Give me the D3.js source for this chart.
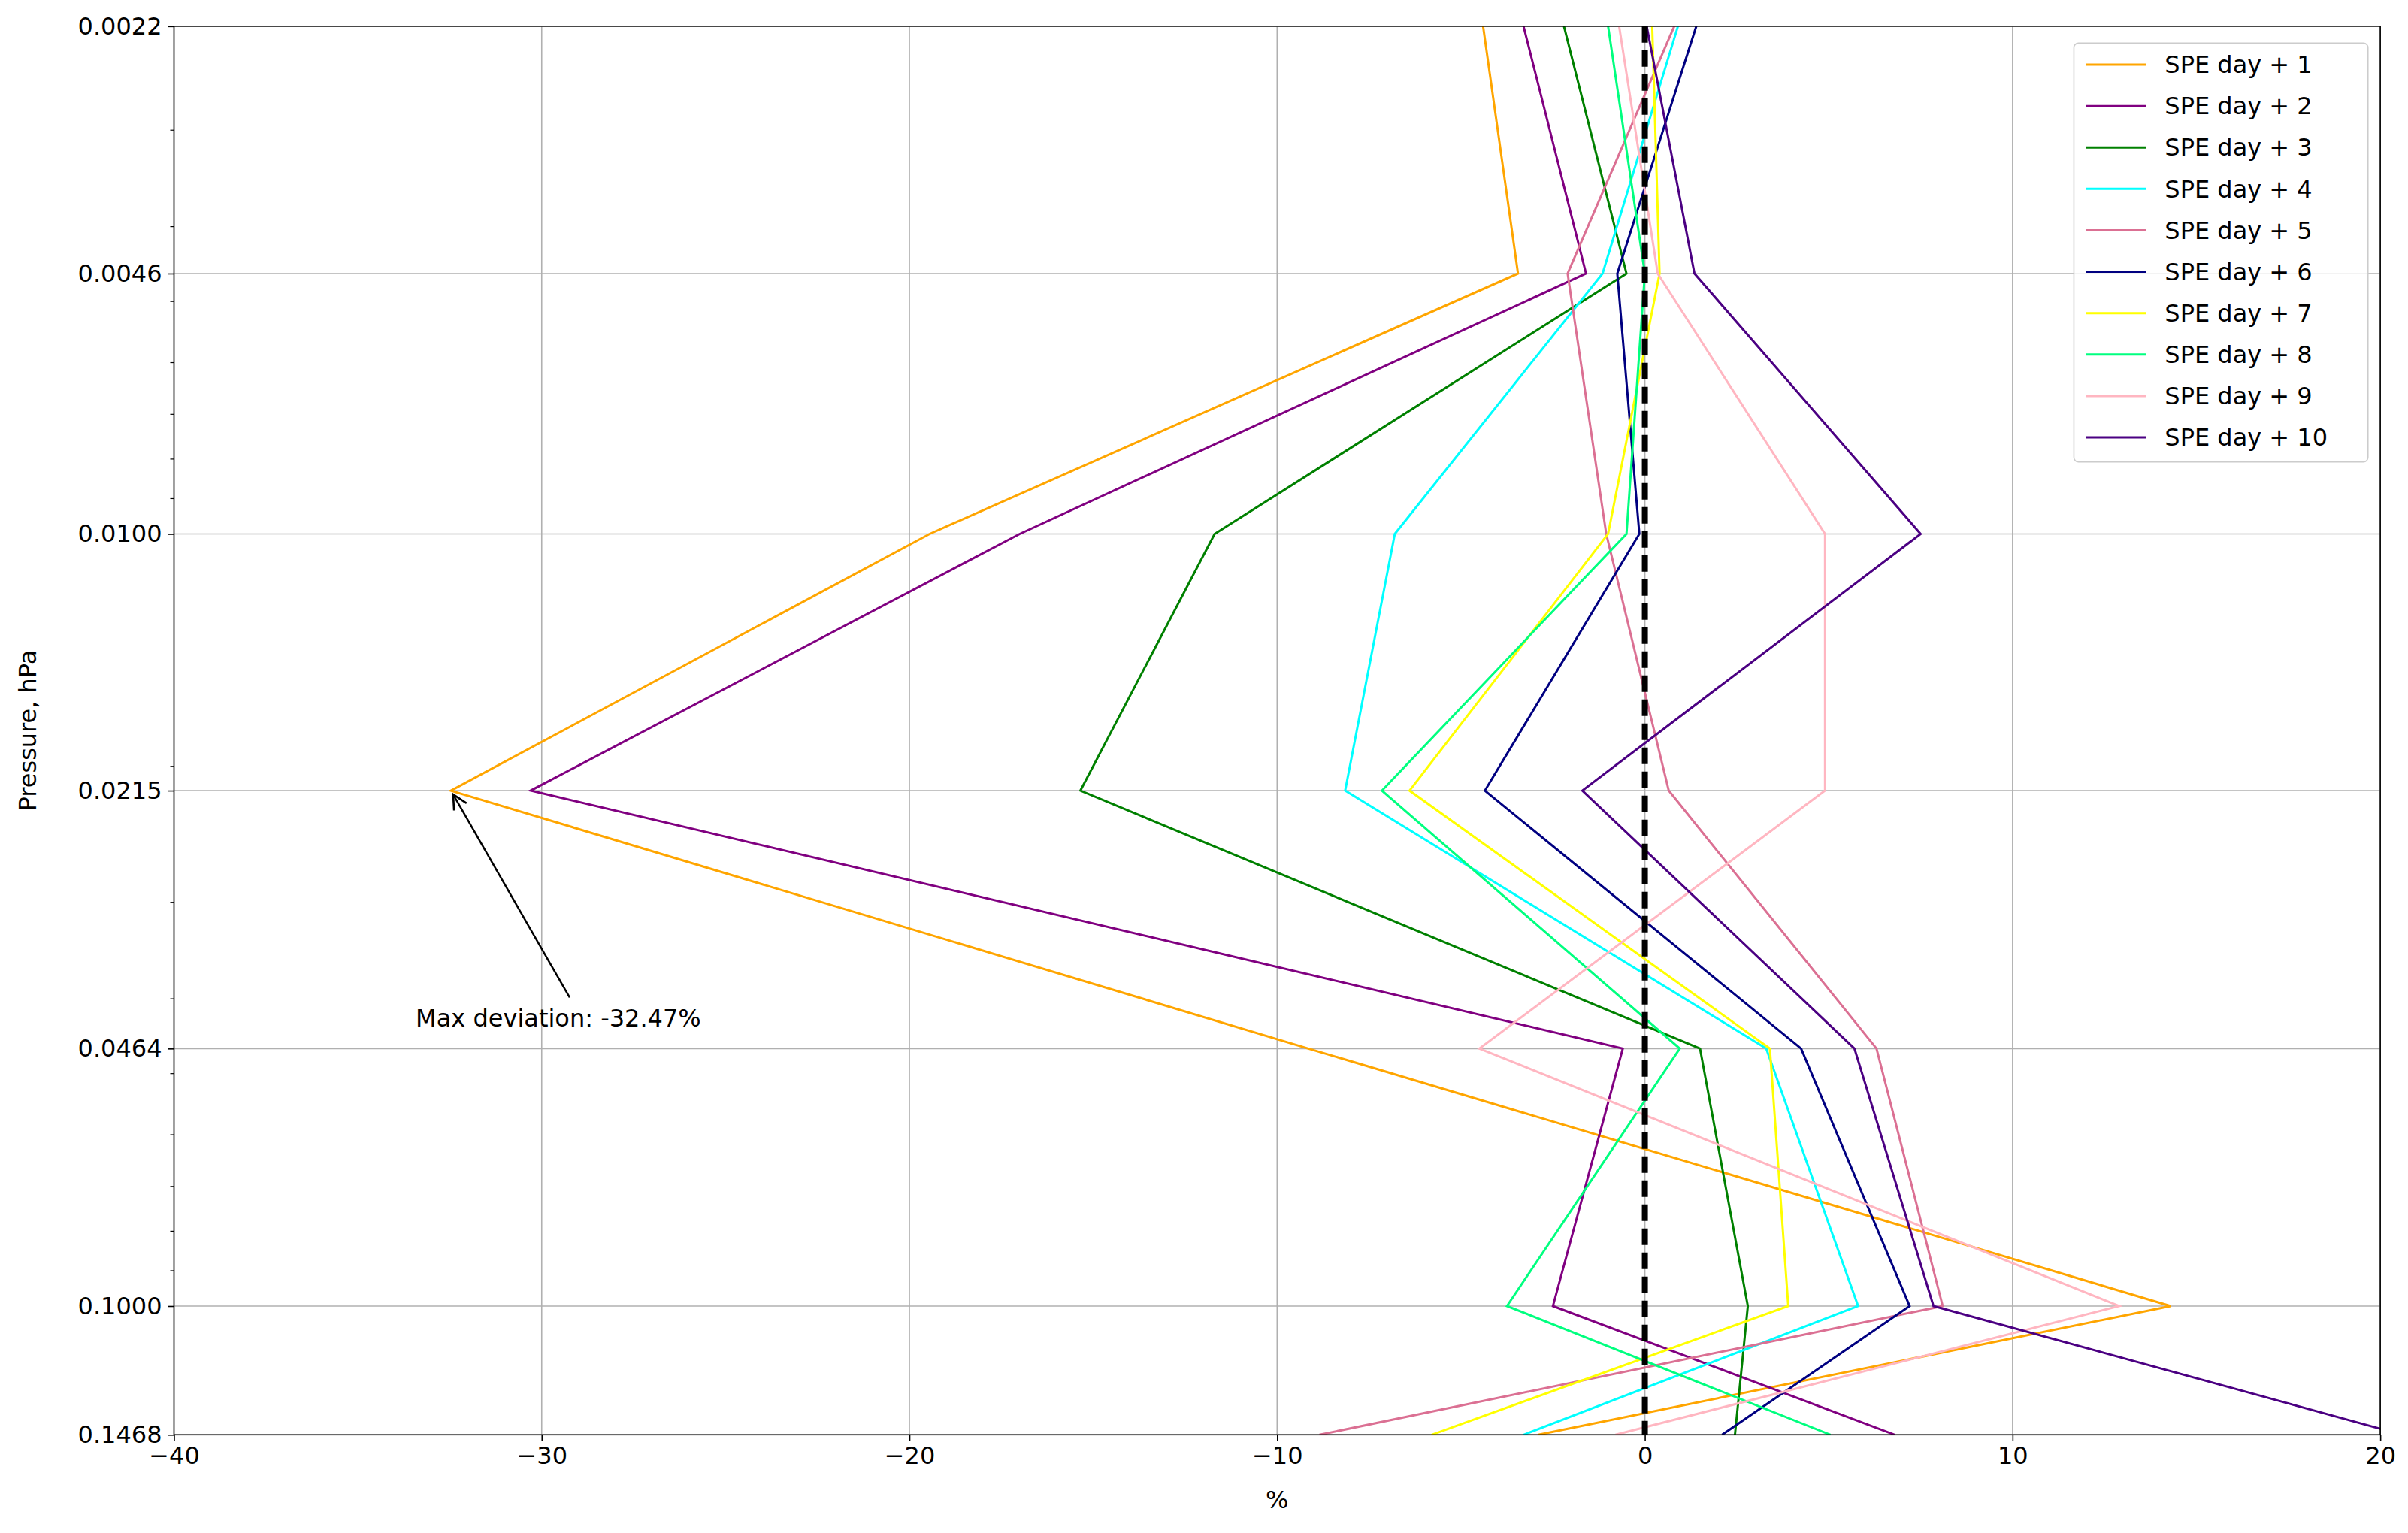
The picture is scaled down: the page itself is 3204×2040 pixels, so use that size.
<!DOCTYPE html>
<html><head><meta charset="utf-8">
<script src="https://cdn.jsdelivr.net/npm/d3@7"></script>
<style>body{margin:0;background:#fff}svg{font-family:"DejaVu Sans",sans-serif}</style>
</head><body>
<svg id="svg1" width="3204" height="2040"></svg>
<script>
"use strict";
// pressure levels (hPa) and tick labels
const levels = [0.0022, 0.0046, 0.0100, 0.0215, 0.0464, 0.1000, 0.1468];
const tickLabels = ["0.0022", "0.0046", "0.0100", "0.0215", "0.0464", "0.1000", "0.1468"];
const seriesNames = ["SPE day + 1","SPE day + 2","SPE day + 3","SPE day + 4","SPE day + 5",
  "SPE day + 6","SPE day + 7","SPE day + 8","SPE day + 9","SPE day + 10"];
const colors = ["orange","purple","green","cyan","palevioletred","navy","yellow","springgreen","lightpink","indigo"];
// deviation (%) at each level
const day1  = [-4.4, -3.45, -19.45, -32.47, -9.15, 14.3, -2.9];
const day2  = [-3.3, -1.6, -17.0, -30.3, -0.6, -2.5, 6.8];
const day3  = [-2.2, -0.5, -11.7, -15.35, 1.5, 2.8, 2.45];
const day4  = [0.9, -1.15, -6.8, -8.15, 3.3, 5.8, -3.3];
const day5  = [0.8, -2.1, -1.05, 0.65, 6.3, 8.1, -8.85];
const day6  = [1.4, -0.75, -0.15, -4.35, 4.25, 7.2, 2.1];
const day7  = [0.2, 0.4, -1.0, -6.4, 3.4, 3.9, -5.8];
const day8  = [-1.0, 0.0, -0.5, -7.15, 0.95, -3.75, 5.05];
const day9  = [-0.7, 0.35, 4.9, 4.9, -4.5, 12.9, -0.8];
const day10 = [0.05, 1.35, 7.5, -1.7, 5.7, 7.85, 20.6];
const allSeries = [day1,day2,day3,day4,day5,day6,day7,day8,day9,day10];
const xTicks = [-40,-30,-20,-10,0,10,20];

const s = 3204/1564;
const L = 113*s, R = 1546*s, T = 17*s, B = 932*s;
const svg = d3.select("#svg1");
const x = d3.scaleLinear().domain([-40,20]).range([L,R]);
const y = d3.scaleLog().domain([0.0022,0.1468]).range([T,B]);

svg.append("defs").append("clipPath").attr("id","clip")
  .append("rect").attr("x",L).attr("y",T).attr("width",R-L).attr("height",B-T);
svg.append("defs").append("marker").attr("id","arr").attr("viewBox","0 0 10 10")
  .attr("refX",9).attr("refY",5).attr("markerWidth",8).attr("markerHeight",8).attr("orient","auto")
  .attr("markerUnits","userSpaceOnUse").attr("markerWidth",24).attr("markerHeight",24)
  .append("path").attr("d","M1,1 L9,5 L1,9").attr("fill","none").attr("stroke","black").attr("stroke-width",1.1);

// grid
svg.append("g").selectAll("line").data(xTicks).enter().append("line")
  .attr("x1",d=>x(d)).attr("x2",d=>x(d)).attr("y1",T).attr("y2",B)
  .attr("stroke","#b0b0b0").attr("stroke-width",1.6);
svg.append("g").selectAll("line").data(levels).enter().append("line")
  .attr("x1",L).attr("x2",R).attr("y1",d=>y(d)).attr("y2",d=>y(d))
  .attr("stroke","#b0b0b0").attr("stroke-width",1.6);

// lines
const line = d3.line().x(d=>x(d[0])).y(d=>y(d[1]));
const g = svg.append("g").attr("clip-path","url(#clip)");
allSeries.forEach((vals,i)=>{
  g.append("path").datum(vals.map((v,j)=>[v,levels[j]]))
    .attr("d",line).attr("fill","none").attr("stroke",colors[i]).attr("stroke-width",3);
});
g.append("line").attr("x1",x(0)).attr("x2",x(0)).attr("y1",T).attr("y2",B)
  .attr("stroke","black").attr("stroke-width",8).attr("stroke-dasharray","22,10");

// axes
const fs = 32;
const xAxis = svg.append("g").attr("transform",`translate(0,${B})`)
  .call(d3.axisBottom(x).tickValues(xTicks).tickFormat(d=>d<0?"\u2212"+(-d):d).tickSize(8).tickPadding(8));
const yAxis = svg.append("g").attr("transform",`translate(${L},0)`)
  .call(d3.axisLeft(y).tickValues(levels).tickFormat((d,i)=>tickLabels[i]).tickSize(8).tickPadding(8));
[xAxis,yAxis].forEach(a=>{
  a.select(".domain").remove();
  a.selectAll("line").attr("stroke","black").attr("stroke-width",1.6);
  a.selectAll("text").attr("font-size",fs).attr("font-family","DejaVu Sans").attr("fill","black");
});
// minor log ticks
const minor = [];
[0.001,0.01,0.1].forEach(b=>{for(let k=2;k<10;k++){const v=b*k; if(v>0.0022&&v<0.1468) minor.push(v);}});
svg.append("g").selectAll("line").data(minor).enter().append("line")
  .attr("x1",L-5).attr("x2",L).attr("y1",d=>y(d)).attr("y2",d=>y(d)).attr("stroke","black").attr("stroke-width",1.2);

svg.append("rect").attr("x",L).attr("y",T).attr("width",R-L).attr("height",B-T)
  .attr("fill","none").attr("stroke","black").attr("stroke-width",1.6);

svg.append("text").attr("x",(L+R)/2).attr("y",B+98).attr("text-anchor","middle")
  .attr("font-size",fs).text("%");
svg.append("text").attr("transform",`translate(${48},${(T+B)/2}) rotate(-90)`)
  .attr("text-anchor","middle").attr("font-size",fs).text("Pressure, hPa");

// annotation
const ax = x(day1[3]), ay = y(levels[3]);
svg.append("line").attr("x1",370*s).attr("y1",648*s).attr("x2",ax+3).attr("y2",ay+5)
  .attr("stroke","black").attr("stroke-width",2.5).attr("marker-end","url(#arr)");
svg.append("text").attr("x",270*s).attr("y",667*s).attr("font-size",fs)
  .text("Max deviation: -32.47%");

// legend
const lx = 1347*s, ly = 28*s, lw = 191*s, lh = 272*s, row = 26.9*s;
svg.append("rect").attr("x",lx).attr("y",ly).attr("width",lw).attr("height",lh).attr("rx",6)
  .attr("fill","white").attr("fill-opacity",0.8).attr("stroke","#cccccc").attr("stroke-width",1.6);
const leg = svg.selectAll(".legend").data(seriesNames).enter().append("g")
  .attr("transform",(d,i)=>`translate(${lx},${ly+14*s+i*row})`);
leg.append("line").attr("x1",8*s).attr("x2",47*s).attr("stroke",(d,i)=>colors[i]).attr("stroke-width",3);
leg.append("text").attr("x",59*s).attr("dy","0.35em").attr("font-size",fs).text(d=>d);
</script>
</body></html>
